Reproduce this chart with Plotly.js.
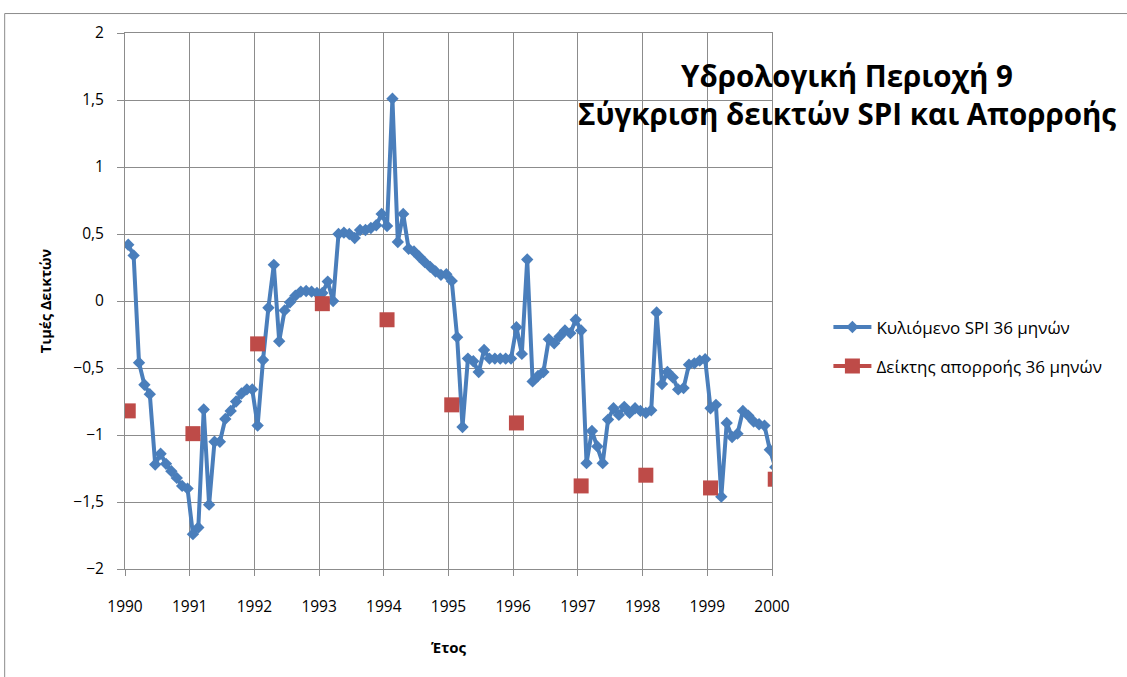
<!DOCTYPE html>
<html>
<head>
<meta charset="utf-8">
<script src="https://cdn.plot.ly/plotly-3.0.1.min.js"></script>
<style>
html,body{margin:0;padding:0;background:#fff;}
#chart{width:1127px;height:677px;}
</style>
</head>
<body>
<div id="chart"></div>
<script>
// ---- data ----
const startYear = 1990;
const monthOffset = 0.05; // observation position inside its month (decimal years)
const spiValues = [
  0.42, 0.34, -0.46, -0.625, -0.695, -1.22, -1.14, -1.215, -1.27, -1.32, -1.38, -1.40,
  -1.74, -1.69, -0.81, -1.52, -1.05, -1.05, -0.88, -0.82, -0.75, -0.69, -0.66, -0.66,
  -0.93, -0.44, -0.05, 0.27, -0.30, -0.07, -0.01, 0.04, 0.07, 0.075, 0.07, 0.06,
  0.06, 0.145, 0.0, 0.50, 0.51, 0.50, 0.47, 0.53, 0.53, 0.545, 0.565, 0.65,
  0.56, 1.51, 0.44, 0.65, 0.39, 0.37, 0.33, 0.29, 0.255, 0.22, 0.195, 0.20,
  0.15, -0.27, -0.94, -0.43, -0.45, -0.53, -0.365, -0.43, -0.43, -0.43, -0.43, -0.43,
  -0.196, -0.395, 0.31, -0.60, -0.56, -0.53, -0.285, -0.315, -0.265, -0.22, -0.24, -0.14,
  -0.22, -1.21, -0.97, -1.085, -1.21, -0.885, -0.80, -0.85, -0.79, -0.835, -0.80, -0.82,
  -0.835, -0.815, -0.085, -0.62, -0.53, -0.57, -0.66, -0.65, -0.475, -0.465, -0.445, -0.435,
  -0.80, -0.775, -1.46, -0.91, -1.015, -0.99, -0.82, -0.855, -0.90, -0.92, -0.93, -1.11,
  -1.24
];
const runoffYears = [1990, 1991, 1992, 1993, 1994, 1995, 1996, 1997, 1998, 1999, 2000];
const runoffValues = [-0.82, -0.99, -0.32, -0.02, -0.14, -0.775, -0.91, -1.38, -1.30, -1.395, -1.33];
const yearTicks = [1990, 1991, 1992, 1993, 1994, 1995, 1996, 1997, 1998, 1999, 2000];
const seriesNames = ['Κυλιόμενο SPI 36 μηνών', 'Δείκτης απορροής 36 μηνών'];

// ---- build traces ----
const spiX = spiValues.map((v, i) => startYear + monthOffset + i / 12);
// runoff points are separate yearly values: break the line between them
const runX = [], runY = [];
runoffYears.forEach((yr, i) => {
  if (i > 0) { runX.push(null); runY.push(null); }
  runX.push(yr + monthOffset); runY.push(runoffValues[i]);
});

const FONT = 'Open Sans, Noto Sans, sans-serif';
const GRID = '#8c8c8c';

const traces = [
  {
    x: spiX, y: spiValues, name: seriesNames[0], type: 'scatter', mode: 'lines+markers',
    line: {color: '#4a7ebb', width: 4},
    marker: {symbol: 'diamond', size: 9.5, color: '#4a7ebb'},
    legendgroup: 'a'
  },
  {
    x: runX, y: runY, name: seriesNames[1], type: 'scatter', mode: 'lines+markers',
    connectgaps: false,
    line: {color: '#be4b48', width: 4},
    marker: {symbol: 'square', size: 15, color: '#be4b48'},
    legendgroup: 'b'
  }
];

const L = 124.5, R = 772.5, T = 32.5, B = 569.5;
const W = 1127, H = 677;
const pw = R - L, ph = B - T;

const layout = {
  width: W, height: H,
  margin: {l: L, r: W - R, t: T, b: H - B, pad: 0},
  paper_bgcolor: '#ffffff', plot_bgcolor: '#ffffff',
  separators: ',.',
  font: {family: FONT, size: 15, color: '#000'},
  showlegend: true,
  title: {
    text: '<b>Υδρολογική Περιοχή 9<br>Σύγκριση δεικτών SPI και Απορροής</b>',
    font: {family: FONT, size: 29.5, color: '#000'},
    x: 847 / W, xanchor: 'center', xref: 'container',
    y: 1 - 87 / H, yanchor: 'middle', yref: 'container'
  },
  xaxis: {
    range: [1990, 2000], tickvals: yearTicks, ticktext: yearTicks.map(String),
    showgrid: true, gridcolor: GRID, gridwidth: 1,
    showline: true, linecolor: GRID, linewidth: 1, mirror: true,
    zeroline: false,
    ticks: 'outside', ticklen: 6, tickcolor: GRID, ticklabelstandoff: 17,
    tickfont: {family: FONT, size: 15.5, color: '#000'},
    title: {text: '<b>Έτος</b>', font: {family: FONT, size: 15, color: '#000'}, standoff: 26}
  },
  yaxis: {
    range: [-2, 2], dtick: 0.5, tick0: 0,
    showgrid: true, gridcolor: GRID, gridwidth: 1,
    showline: true, linecolor: GRID, linewidth: 1, mirror: true,
    zeroline: false,
    ticks: 'outside', ticklen: 7, tickcolor: GRID, ticklabelstandoff: 10,
    tickfont: {family: FONT, size: 15.5, color: '#000'},
    title: {text: '<b>Τιμές Δεικτών</b>', font: {family: FONT, size: 14.5, color: '#000'}, standoff: 18}
  },
  legend: {
    x: (829 - L) / pw, xanchor: 'left', y: (B - 347) / ph, yanchor: 'middle',
    font: {family: FONT, size: 17, color: '#000'},
    bgcolor: 'rgba(0,0,0,0)', borderwidth: 0,
    itemwidth: 38,
    traceorder: 'grouped', tracegroupgap: 14
  },
  shapes: [
    {type: 'line', xref: 'paper', yref: 'paper', x0: (4 - L) / pw, x1: (W + 5 - L) / pw,
     y0: (B - 13) / ph, y1: (B - 13) / ph, line: {color: '#8c8c8c', width: 1}, layer: 'below'},
    {type: 'line', xref: 'paper', yref: 'paper', x0: (4 - L) / pw, x1: (4 - L) / pw,
     y0: (B - 13) / ph, y1: (B - H - 5) / ph, line: {color: '#8c8c8c', width: 1}, layer: 'below'}
  ]
};

Plotly.newPlot('chart', traces, layout, {displayModeBar: false, staticPlot: true});
</script>
</body>
</html>
